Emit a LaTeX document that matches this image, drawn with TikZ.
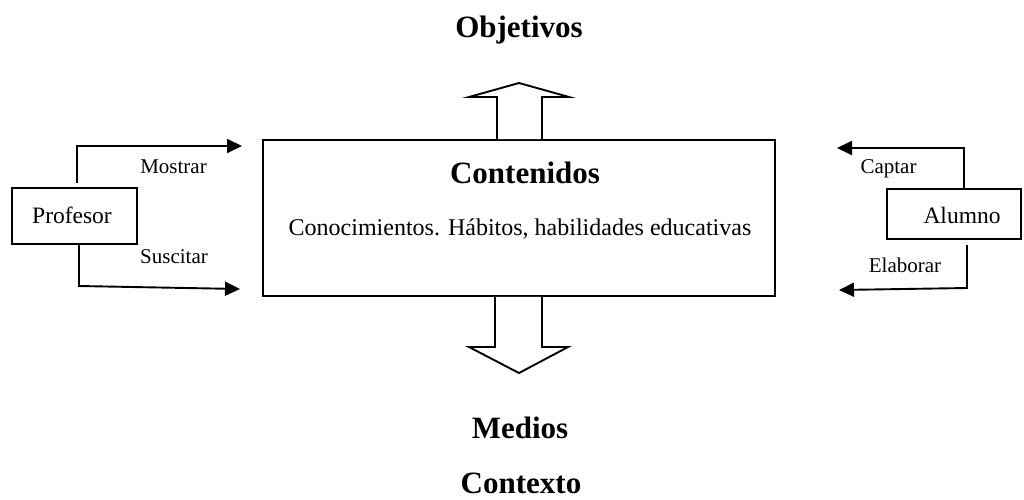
\documentclass[tikz,border=0pt]{standalone}
\usepackage{fontspec}
\setmainfont{Liberation Serif}
\usetikzlibrary{arrows.meta}
\begin{document}
\begin{tikzpicture}[x=1pt,y=-1pt,
  boxs/.style={draw,line width=1.8pt,inner sep=0pt},
  conn/.style={line width=1.9pt,-{Triangle[length=15pt,width=14pt]}},
  title/.style={font=\fontsize{31}{36}\selectfont\bfseries,anchor=base,inner sep=0pt},
  lbl/.style={font=\fontsize{21}{25}\selectfont,anchor=base,inner sep=0pt},
  blockarr/.style={draw,line width=1.9pt,fill=white,line join=miter}]
\useasboundingbox (0,0) rectangle (1024,499);
% boxes
\node[boxs,minimum width=512pt,minimum height=156pt] (main) at (519,218) {};
\node[boxs,minimum width=125pt,minimum height=56pt] (prof) at (74.5,216) {};
\node[boxs,minimum width=134pt,minimum height=50pt] (alum) at (954,214) {};
% texts
\node[title] (obj) at (519,37) {Objetivos};
\node[title] (cont) at (525,183) {Contenidos};
\node[anchor=base,inner sep=0pt,font=\fontsize{24}{29}\selectfont] (conoc) at (520,235) {Conocimientos. Hábitos, habilidades educativas};
\node[title] (med) at (520,438) {Medios};
\node[title] (ctx) at (521,493) {Contexto};
\node[anchor=base,inner sep=0pt,font=\fontsize{23.5}{28}\selectfont] (proft) at (72,223) {Profesor};
\node[anchor=base,inner sep=0pt,font=\fontsize{23.5}{28}\selectfont] (alumt) at (962,223) {Alumno};
\node[lbl] (mos) at (173.5,173) {Mostrar};
\node[lbl] (sus) at (174,263) {Suscitar};
\node[lbl] (cap) at (888.5,173) {Captar};
\node[lbl] (ela) at (905,272) {Elaborar};
% connectors
\coordinate (m1) at (242,146);
\coordinate (s1) at (240,289);
\coordinate (c1) at (837,148);
\coordinate (e1) at (839,290);
\draw[conn] (77,183) |- (m1);
\draw[conn] (prof.south -| 79,0) -- (79,286) -- (s1);
\draw[conn] (alum.north -| 964,0) |- (c1);
\draw[conn] (967,245) -- (967,288) -- (e1);
% hollow block arrows
\draw[blockarr] (main.north -| 497,0) -- (497,97) -- (469,97) -- (519,83) -- (569,97) -- (542,97) -- (main.north -| 542,0);
\draw[blockarr] (main.south -| 495,0) -- (495,347) -- (469,347) -- (519,373) -- (568,347) -- (542,347) -- (main.south -| 542,0);
\end{tikzpicture}
\end{document}
